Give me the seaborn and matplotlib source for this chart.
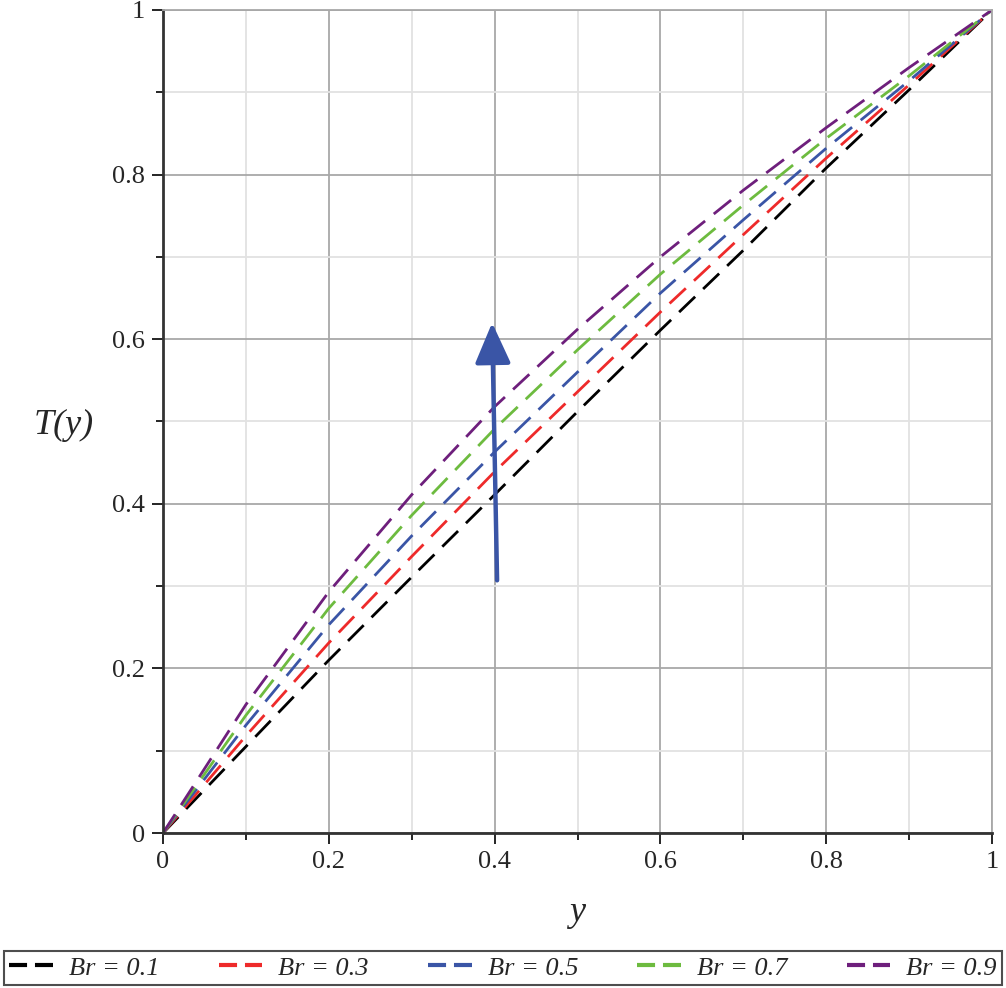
import pandas as pd
import numpy as np
import matplotlib.pyplot as plt
from matplotlib.lines import Line2D
import seaborn as sns

# values
y_vals = [0, 0.1, 0.2, 0.3, 0.4, 0.5, 0.6, 0.7, 0.8, 0.9, 1.0]
br_labels = ['0.1', '0.3', '0.5', '0.7', '0.9']
T_br01 = [0, 0.105, 0.210, 0.311, 0.411, 0.512, 0.611, 0.708, 0.808, 0.903, 1.0]
T_br03 = [0, 0.118, 0.231, 0.336, 0.439, 0.536, 0.633, 0.727, 0.820, 0.909, 1.0]
T_br05 = [0, 0.131, 0.253, 0.361, 0.463, 0.560, 0.656, 0.745, 0.832, 0.914, 1.0]
T_br07 = [0, 0.143, 0.273, 0.386, 0.491, 0.587, 0.679, 0.763, 0.844, 0.920, 1.0]
T_br09 = [0, 0.156, 0.293, 0.411, 0.518, 0.612, 0.700, 0.781, 0.857, 0.930, 1.0]
colors = ['#000000', '#ee2a2a', '#3a55a6', '#6dbb3f', '#6e1f7c']

series = [T_br01, T_br03, T_br05, T_br07, T_br09]
df = pd.concat([pd.DataFrame({'y': y_vals, 'T': s, 'Br': b})
                for s, b in zip(series, br_labels)], ignore_index=True)

sns.set_style('white')
plt.rcParams['font.family'] = ['Liberation Serif', 'DejaVu Serif']
plt.rcParams['lines.scale_dashes'] = False

fig = plt.figure(figsize=(10.06, 9.88), dpi=100)
ax = fig.add_axes([163/1006, 1 - 833/988, 829/1006, 823/988])

sns.lineplot(data=df, x='y', y='T', hue='Br', style='Br',
             palette=colors, dashes=[(16, 8)] * 5, linewidth=2.0,
             legend=False, ax=ax, sort=False)

ax.set_xlim(0, 1)
ax.set_ylim(0, 1)
ax.set_xticks(np.arange(0, 1.01, 0.2))
ax.set_yticks(np.arange(0, 1.01, 0.2))
ax.set_xticks(np.arange(0.1, 1.0, 0.2), minor=True)
ax.set_yticks(np.arange(0.1, 1.0, 0.2), minor=True)
ax.set_xticklabels(['0', '0.2', '0.4', '0.6', '0.8', '1'])
ax.set_yticklabels(['0', '0.2', '0.4', '0.6', '0.8', '1'])
ax.grid(which='major', color='#a8a8a8', linewidth=1.3)
ax.grid(which='minor', color='#e2e2e2', linewidth=1.3)
ax.set_axisbelow(True)
ax.tick_params(which='major', direction='out', length=8, width=1.2,
               labelsize=19, left=True, bottom=True, color='black', pad=5)
ax.tick_params(which='minor', direction='out', length=5, width=1.2,
               left=True, bottom=True, color='black')
for side in ['left', 'bottom']:
    ax.spines[side].set_color('#333333')
    ax.spines[side].set_linewidth(2)
for side in ['top', 'right']:
    ax.spines[side].set_color('#a8a8a8')
    ax.spines[side].set_linewidth(1.3)
ax.set_xlabel('')
ax.set_ylabel('')

ax.annotate('', xy=(0.397, 0.620), xytext=(0.403, 0.307),
            arrowprops=dict(arrowstyle='-|>,head_length=1.25,head_width=0.55',
                            mutation_scale=20, lw=3.2, color='#3a55a6',
                            shrinkA=0, shrinkB=0))

fig.text(64/1006, 1 - 425/988, 'T(y)', ha='center', va='center',
         style='italic', fontsize=26)
fig.text(577/1006, 1 - 912/988, 'y', ha='center', va='center',
         style='italic', fontsize=26)

handles = [Line2D([], [], color=c, lw=3, linestyle=(0, (13, 5.7)))
           for c in colors]
leg = fig.legend(handles, ['Br = ' + b for b in br_labels], ncol=5,
                 loc='lower left', mode='expand',
                 bbox_to_anchor=(4/1006, 3/988, 998/1006, 34/988),
                 frameon=True, fancybox=False, edgecolor='#222222',
                 prop={'style': 'italic', 'size': 19}, handlelength=1.66,
                 handletextpad=0.6, borderpad=0.2, borderaxespad=0,
                 columnspacing=0.5)
leg.get_frame().set_linewidth(1.5)

fig.savefig('out.png', dpi=100)
